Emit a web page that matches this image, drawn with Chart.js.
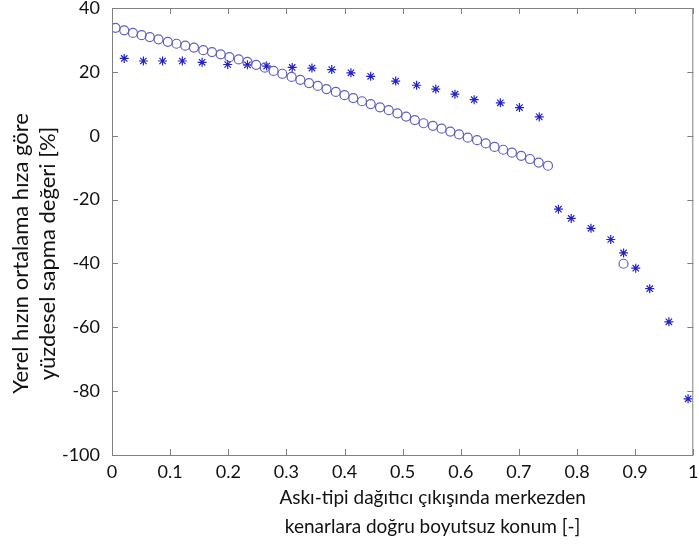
<!DOCTYPE html>
<html>
<head>
<meta charset="utf-8">
<script src="https://cdn.jsdelivr.net/npm/chart.js@4"></script>
<style>
  body { margin: 0; background: #fff; }
  #wrap { width: 699px; height: 547px; }
</style>
</head>
<body>
<div id="wrap"><canvas id="grafik" width="699" height="547"></canvas></div>
<script>
// daireler (o) - model
const daireX = [0.006, 0.021, 0.036, 0.051, 0.065, 0.080, 0.096, 0.111, 0.126, 0.141,
                0.157, 0.172, 0.187, 0.202, 0.218, 0.233, 0.248, 0.263, 0.278, 0.293,
                0.309, 0.324, 0.339, 0.354, 0.369, 0.385, 0.400, 0.415, 0.430, 0.445,
                0.461, 0.476, 0.491, 0.506, 0.521, 0.536, 0.552, 0.567, 0.582, 0.597,
                0.612, 0.628, 0.643, 0.658, 0.673, 0.688, 0.704, 0.719, 0.734, 0.750, 0.880];
const daireY = [33.8, 33.0, 32.2, 31.5, 30.9, 30.2, 29.4, 28.8, 28.2, 27.6,
                26.8, 26.2, 25.5, 24.6, 23.9, 23.1, 22.2, 21.3, 20.3, 19.4,
                18.4, 17.5, 16.5, 15.6, 14.6, 13.7, 12.7, 11.8, 10.8, 9.9,
                8.9, 8.0, 7.0, 6.0, 4.9, 3.9, 3.1, 2.2, 1.3, 0.4,
                -0.6, -1.4, -2.4, -3.5, -4.4, -5.3, -6.3, -7.3, -8.4, -9.4, -40.1];

// yildizlar (*) - olcum
const yildizX = [0.021, 0.054, 0.087, 0.121, 0.155, 0.199, 0.233, 0.266, 0.310, 0.344,
                 0.378, 0.411, 0.445, 0.488, 0.524, 0.557, 0.590, 0.623, 0.668, 0.701,
                 0.735, 0.768, 0.790, 0.824, 0.858, 0.880, 0.901, 0.925, 0.958, 0.991];
const yildizY = [24.2, 23.4, 23.4, 23.4, 23.0, 22.3, 22.2, 21.8, 21.4, 21.2,
                 20.7, 19.7, 18.6, 17.1, 15.8, 14.6, 13.0, 11.3, 10.3, 8.8,
                 5.9, -23.0, -25.9, -29.0, -32.5, -36.7, -41.5, -47.9, -58.3, -82.4];

const xBaslik = ['Askı-tipi dağıtıcı çıkışında merkezden', 'kenarlara doğru boyutsuz konum [-]'];
const yBaslik = ['Yerel hızın ortalama hıza göre', 'yüzdesel sapma değeri [%]'];

const font = 'Lato, "Open Sans", sans-serif';

// kutu, iceri bakan tikler ve eksen basliklari
const cerceve = {
    id: 'cerceve',
    afterDraw(chart) {
        const { ctx, chartArea: a, scales: { x, y } } = chart;
        ctx.save();
        ctx.strokeStyle = '#808080';
        ctx.lineWidth = 1;
        ctx.strokeRect(a.left + 0.5, a.top + 0.5, a.right - a.left - 1, a.bottom - a.top);
        ctx.beginPath();
        x.ticks.forEach((t, i) => {
            const px = Math.round(x.getPixelForTick(i)) + 0.5;
            ctx.moveTo(px, a.bottom); ctx.lineTo(px, a.bottom - 6);
            ctx.moveTo(px, a.top); ctx.lineTo(px, a.top + 6);
        });
        y.ticks.forEach((t, i) => {
            const py = Math.round(y.getPixelForTick(i)) + 0.5;
            ctx.moveTo(a.left, py); ctx.lineTo(a.left + 6, py);
            ctx.moveTo(a.right, py); ctx.lineTo(a.right - 6, py);
        });
        ctx.stroke();

        ctx.fillStyle = '#111';
        ctx.textAlign = 'center';
        ctx.textBaseline = 'middle';
        ctx.font = '19px ' + font;
        const xc = (a.left + a.right) / 2 + 30;
        ctx.fillText(xBaslik[0], xc, a.bottom + 43);
        ctx.fillText(xBaslik[1], xc, a.bottom + 72);

        ctx.font = '22px ' + font;
        const yc = (a.top + a.bottom) / 2 + 22;
        [21, 48].forEach((lx, i) => {
            ctx.save();
            ctx.translate(lx, yc);
            ctx.rotate(-Math.PI / 2);
            ctx.fillText(yBaslik[i], 0, 0);
            ctx.restore();
        });
        ctx.restore();
    }
};

const etiket = v => String(Number(Number(v).toFixed(1)));

new Chart(document.getElementById('grafik'), {
    type: 'scatter',
    data: {
        datasets: [{
            label: 'o',
            data: daireX.map((v, i) => ({ x: v, y: daireY[i] })),
            pointStyle: 'circle',
            pointRadius: 4.5,
            borderColor: '#6060c0',
            backgroundColor: 'rgba(0,0,0,0)',
            borderWidth: 1.2
        }, {
            label: '*',
            data: yildizX.map((v, i) => ({ x: v, y: yildizY[i] })),
            pointStyle: 'star',
            pointRadius: 4.5,
            borderColor: '#2222cc',
            backgroundColor: '#2222cc',
            borderWidth: 1.2
        }]
    },
    options: {
        responsive: false,
        animation: false,
        layout: { padding: { top: 8, right: 2, left: 0, bottom: 0 } },
        plugins: { legend: { display: false }, tooltip: { enabled: false } },
        scales: {
            x: {
                type: 'linear',
                min: 0, max: 1,
                grid: { display: false, drawTicks: false },
                border: { display: false },
                ticks: { stepSize: 0.1, color: '#111', padding: 6, callback: etiket, font: { family: font, size: 18 } },
                afterFit(s) { s.height = 92; s.paddingLeft = 0; s.paddingRight = 0; }
            },
            y: {
                min: -100, max: 40,
                grid: { display: false, drawTicks: false },
                border: { display: false },
                ticks: { stepSize: 20, color: '#111', padding: 12, callback: etiket, font: { family: font, size: 18 } },
                afterFit(s) { s.width = 112; s.paddingTop = 0; s.paddingBottom = 0; }
            }
        }
    },
    plugins: [cerceve]
});
</script>
</body>
</html>
